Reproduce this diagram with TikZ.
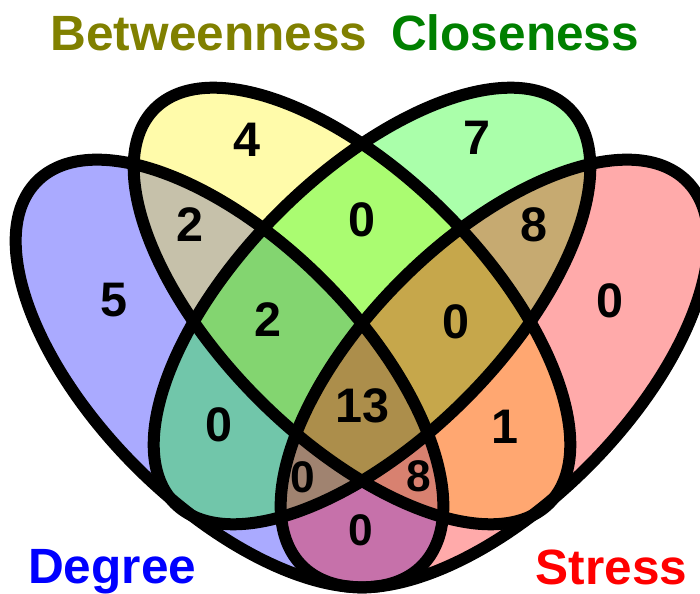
\documentclass[tikz,border=0pt]{standalone}
\usepackage{fontspec}
\setmainfont{Liberation Sans}
\usepackage{xcolor}
\usepackage{tikz}
\usetikzlibrary{positioning}

\definecolor{olivo}{RGB}{128,128,0}
\definecolor{verdescuro}{RGB}{0,128,0}

\begin{document}
\begin{tikzpicture}[
      x=0.05cm, y=0.05cm,
      insieme/.style={fill opacity=0.333},
      bordo/.style={draw=black, line width=0.6cm},
      num/.style={font=\fontsize{69}{71}\selectfont\bfseries, inner sep=0pt},
      nump/.style={font=\fontsize{63}{65}\selectfont\bfseries, inner sep=0pt},
      tit/.style={font=\fontsize{70.5}{73}\selectfont\bfseries, inner sep=0pt, anchor=base west}
    ]
    \useasboundingbox (0,0) rectangle (700,594);
    \clip (0,0) rectangle (700,594);

    % Insiemi: riempimento trasparente
    \foreach \col/\cx/\cy/\ang/\ra in {blue/229.5/220.5/-45/272, yellow/352/288/-45/279,
        green/372/288/45/279, red/494.5/220.5/45/272}
      \fill[fill=\col, insieme, rotate around={\ang:(\cx,\cy)}] (\cx,\cy) ellipse [x radius=\ra, y radius=132];

    % Bordi
    \foreach \cx/\cy/\ang/\ra in {229.5/220.5/-45/272, 352/288/-45/279,
        372/288/45/279, 494.5/220.5/45/272}
      \draw[bordo, rotate around={\ang:(\cx,\cy)}] (\cx,\cy) ellipse [x radius=\ra, y radius=132];

    % Titoli
    \node[tit, text=olivo] (betw) at (50.5,543) {Betweenness};
    \node[tit, text=verdescuro] (clos) at (391,543) {Closeness};
    \node[tit, text=blue] (degr) at (28,10) {Degree};
    \node[tit, text=red] (stre) at (535.5,9) {Stress};

    % Conteggi
    \node[num] (d) at (114,294) {5};
    \node[num] (b) at (246.5,454.5) {4};
    \node[num] (c) at (477,456) {7};
    \node[num] (s) at (610,293.5) {0};
    \node[num] (db) at (189.5,369) {2};
    \node[num] (bc) at (361.5,374.5) {0};
    \node[num] (cs) at (534,369.5) {8};
    \node[num] (dbc) at (267.5,274) {2};
    \node[num] (bcs) at (456,272) {0};
    \node[num] (dc) at (218.5,169) {0};
    \node[num] (bs) at (505,167.5) {1};
    \node[num] (dbcs) at (362.5,188.5) {13};
    \node[nump] (dcs) at (303,116.5) {0};
    \node[nump] (dbs) at (418.5,118) {8};
    \node[nump] (ds) at (361,64) {0};
  \end{tikzpicture}
\end{document}
